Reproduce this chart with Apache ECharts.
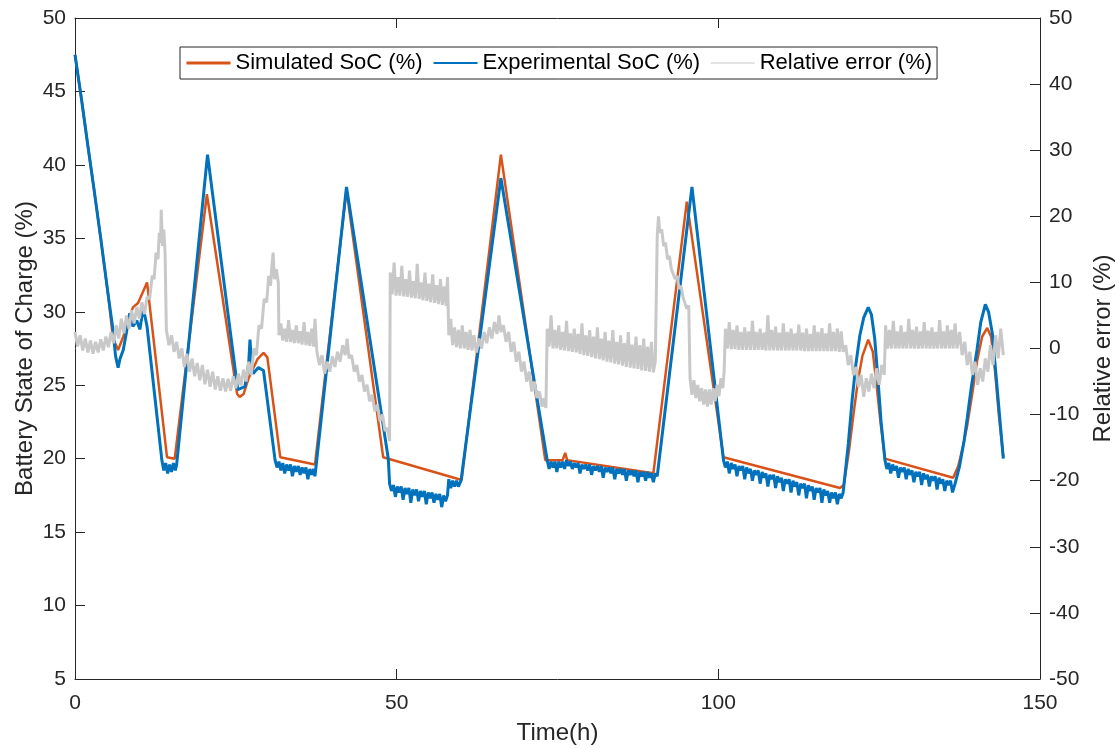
<!DOCTYPE html>
<html>
<head>
<meta charset="utf-8">
<script src="https://cdn.jsdelivr.net/npm/echarts@6/dist/echarts.min.js"></script>
<style>html,body{margin:0;padding:0;background:#fff;}#chart{width:1119px;height:749px;}</style>
</head>
<body>
<div id="chart"></div>
<script>
// Each point: [time (h), value]
const simulatedSoC = [[0,47.5],[1,44.5],[2,41.3],[3,38.2],[4,35.0],[5.2,31.0],[5.9,28.2],[6.7,27.4],[7.5,28.3],[9.0,30.3],[9.8,30.6],[10.4,31.2],[11.2,32.0],[14.3,20.1],[15.5,20.0],[20.5,38.0],[25.2,24.4],[25.6,24.2],[26.2,24.4],[27.0,25.5],[28.4,26.8],[29.3,27.2],[29.9,26.9],[31.9,20.1],[37.3,19.6],[42.2,38.3],[47.9,20.1],[60.1,18.55],[66.2,40.7],[73.1,19.9],[75.8,19.9],[76.2,20.4],[76.5,19.9],[89.9,19.0],[95.1,37.5],[100.8,20.1],[118.9,18.0],[119.5,18.2],[120.3,20.5],[121.0,23.0],[121.7,25.3],[122.4,27.0],[123.3,28.1],[124.0,27.3],[124.6,25.0],[125.2,22.5],[125.9,20.0],[136.5,18.7],[137.3,19.5],[138.0,20.8],[138.7,22.3],[139.5,24.5],[140.2,26.6],[141.0,28.3],[141.8,28.9],[142.4,28.3],[143.0,26.0],[143.6,23.0],[144.3,20.1]];

const experimentalSoC = [[0,47.5],[1,44.5],[2,41.3],[3,38.2],[4,35.0],[5.2,31.0],[5.9,28.8],[6.3,27.0],[6.7,26.2],[7.0,26.8],[7.5,27.4],[8.0,28.6],[8.5,29.9],[9.0,29.0],[9.6,29.4],[10.1,28.8],[10.6,30.3],[10.9,30.3],[11.2,29.0],
[13.5,19.9],[13.8,19.2],[14.1,19.7],[14.4,19.0],[14.7,19.6],[15.0,19.1],[15.3,19.7],[15.6,19.2],[15.8,19.6],
[20.6,40.7],[25.3,24.7],[26.4,24.9],[27.0,26.5],[27.2,28.1],[27.5,26.0],[27.7,25.8],[28.5,26.2],[29.3,26.0],
[31.1,19.9],[31.4,19.4],[31.7,19.8],[32.0,19.2],[32.3,19.7],[32.6,19.0],[32.9,19.6],[33.2,19.2],[33.5,19.6],[33.8,18.8],[34.1,19.5],[34.4,19.1],[34.7,19.5],[35.0,18.9],[35.3,19.4],[35.6,19.0],[35.9,19.4],[36.2,18.6],[36.5,19.3],[36.8,18.9],[37.1,19.3],[37.3,18.8],
[42.2,38.5],[48.7,20.0],
[48.9,18.3],[49.2,17.8],[49.5,18.2],[49.8,17.4],[50.1,18.1],[50.4,17.7],[50.7,18.1],[51.0,17.2],[51.3,18.0],[51.6,17.6],[51.9,18.0],[52.2,17.0],[52.5,17.9],[52.8,17.5],[53.1,17.9],[53.4,17.1],[53.7,17.8],[54.0,17.4],[54.3,17.8],[54.6,16.9],[54.9,17.7],[55.2,17.3],[55.5,17.7],[55.8,17.0],[56.1,17.6],[56.4,17.2],[56.7,17.6],[57.0,16.7],[57.3,17.5],[57.6,17.1],[57.9,17.5],
[58.1,18.6],[58.4,18.0],[58.7,18.5],[59.0,18.1],[59.3,18.5],[59.6,18.1],[60.0,18.5],
[66.2,39.1],
[73.4,19.9],[73.7,19.3],[74.0,19.8],[74.3,19.4],[74.6,19.8],[74.9,19.1],[75.2,19.8],[75.5,19.4],[75.8,19.8],[76.1,19.3],[76.4,19.9],[76.7,19.5],[77.0,19.8],[77.3,19.3],[77.6,19.7],[77.9,19.4],[78.2,19.7],[78.5,19.0],[78.8,19.6],[79.1,19.3],[79.4,19.6],[79.7,19.2],[80.0,19.6],[80.3,18.9],[80.6,19.5],[80.9,19.2],[81.2,19.5],[81.5,19.1],[81.8,19.5],[82.1,18.7],[82.4,19.4],[82.7,19.1],[83.0,19.4],[83.3,19.0],[83.6,19.4],[83.9,18.6],[84.2,19.3],[84.5,19.0],[84.8,19.3],[85.1,18.9],[85.4,19.3],[85.7,18.5],[86.0,19.2],[86.3,18.9],[86.6,19.2],[86.9,18.8],[87.2,19.2],[87.5,18.4],[87.8,19.1],[88.1,18.8],[88.4,19.1],[88.7,18.5],[89.0,19.1],[89.3,18.7],[89.6,19.0],[89.9,18.4],[90.2,19.0],[90.5,18.8],
[95.9,38.5],
[100.8,19.9],[101.1,19.4],[101.4,19.8],[101.7,19.0],[102.0,19.7],[102.3,19.3],[102.6,19.6],[102.9,18.8],[103.2,19.5],[103.5,19.2],[103.8,19.5],[104.1,18.6],[104.4,19.4],[104.7,19.0],[105.0,19.3],[105.3,18.5],[105.6,19.2],[105.9,18.9],[106.2,19.2],[106.5,18.3],[106.8,19.1],[107.1,18.7],[107.4,19.0],[107.7,18.1],[108.0,18.9],[108.3,18.6],[108.6,18.9],[108.9,18.0],[109.2,18.8],[109.5,18.4],[109.8,18.7],[110.1,17.8],[110.4,18.6],[110.7,18.3],[111.0,18.6],[111.3,17.7],[111.6,18.5],[111.9,18.1],[112.2,18.4],[112.5,17.5],[112.8,18.3],[113.1,18.0],[113.4,18.3],[113.7,17.3],[114.0,18.2],[114.3,17.8],[114.6,18.1],[114.9,17.2],[115.2,18.0],[115.5,17.7],[115.8,18.0],[116.1,17.0],[116.4,17.9],[116.7,17.5],[117.0,17.8],[117.3,17.0],[117.6,17.7],[117.9,17.3],[118.2,17.7],[118.5,16.9],[118.8,17.6],[119.1,17.3],[119.4,17.7],
[120.2,21.0],[120.8,24.0],[121.4,26.5],[122.0,28.4],[122.6,29.6],[123.3,30.3],[123.8,29.8],[124.3,28.2],[124.8,25.5],[125.3,22.5],
[125.9,19.9],[126.2,19.3],[126.5,19.7],[126.8,19.0],[127.1,19.6],[127.4,19.2],[127.7,19.5],[128.0,18.7],[128.3,19.4],[128.6,19.1],[128.9,19.4],[129.2,18.6],[129.5,19.3],[129.8,18.9],[130.1,19.2],[130.4,18.4],[130.7,19.1],[131.0,18.8],[131.3,19.1],[131.6,18.2],[131.9,19.0],[132.2,18.6],[132.5,18.9],[132.8,18.1],[133.1,18.8],[133.4,18.5],[133.7,18.8],[134.0,17.9],[134.3,18.7],[134.6,18.3],[134.9,18.6],[135.2,17.8],[135.5,18.5],[135.8,18.2],[136.1,18.5],[136.4,17.7],[136.8,18.3],
[137.5,19.5],[138.2,21.2],[138.7,22.8],[139.3,24.8],[140.2,27.4],[140.8,29.3],[141.5,30.5],[142.0,30.0],[142.6,28.5],[143.2,25.5],[143.8,22.5],[144.3,20.0]];

const relativeError = [[0,2.5],[0.4,0.3],[0.8,2.0],[1.2,-0.3],[1.6,1.5],[2.0,-0.6],[2.4,1.2],[2.8,-0.8],[3.2,1.0],[3.6,-0.6],[4.0,1.4],[4.4,-0.3],[4.8,1.8],[5.2,0.2],[5.6,2.5],[6.0,0.8],[6.4,3.5],[6.8,1.5],[7.2,4.5],[7.6,2.3],[8.0,5.0],[8.4,3.0],[8.8,5.8],[9.2,3.8],[9.6,6.3],[10.0,4.5],[10.4,7.0],[10.8,5.2],[11.2,7.8],[11.6,7.5],[12.0,11.0],[12.3,10.5],[12.6,14.5],[12.9,13.5],[13.1,17.5],[13.3,16.0],[13.4,21.0],[13.6,15.5],[13.8,18.0],[14.0,14.5],[14.2,2.8],
[14.6,0.5],[15.0,2.0],[15.4,-0.5],[15.8,1.0],[16.2,-1.5],[16.6,0.0],[17.0,-2.8],[17.4,-0.8],[17.8,-3.5],[18.2,-1.5],[18.6,-4.2],[19.0,-2.2],[19.4,-4.8],[19.8,-2.5],[20.2,-5.4],[20.6,-3.2],[21.0,-5.8],[21.4,-3.5],[21.8,-6.2],[22.2,-4.2],[22.6,-6.4],[23.0,-4.5],[23.4,-6.5],[23.8,-4.6],[24.2,-6.4],[24.6,-4.2],[25.0,-6.0],[25.4,-3.8],[25.8,-5.6],[26.2,-3.2],[26.6,-5.0],[27.0,-2.0],[27.4,-4.0],[27.8,0.0],[28.2,-1.0],[28.6,3.5],[29.0,3.0],[29.4,7.5],[29.8,7.0],[30.1,11.0],[30.4,9.5],[30.6,12.5],[30.8,14.5],[31.0,10.5],[31.3,12.0],[31.6,10.0],[31.7,2.0],
[32.0,3.8],[32.3,1.2],[32.6,3.0],[32.9,1.0],[33.2,4.3],[33.5,1.0],[33.8,2.8],[34.1,0.8],[34.4,3.5],[34.7,0.8],[35.0,2.6],[35.3,0.6],[35.6,4.0],[35.9,0.5],[36.2,2.5],[36.5,0.4],[36.8,3.0],[37.1,0.3],[37.3,4.5],
[37.6,-0.5],[38.0,-2.5],[38.4,-1.0],[38.8,-3.8],[39.2,-2.0],[39.6,-3.5],[40.0,-1.2],[40.4,-2.8],[40.8,-0.5],[41.2,-2.0],[41.6,0.5],[42.0,-1.0],[42.3,1.5],[42.6,-1.5],[43.0,-1.0],[43.4,-3.5],[43.8,-2.5],[44.2,-5.0],[44.6,-4.0],[45.0,-6.5],[45.4,-5.5],[45.8,-8.0],[46.2,-7.0],[46.6,-9.5],[47.0,-8.5],[47.4,-11.0],[47.8,-10.0],[48.2,-12.5],[48.6,-12.0],[48.9,-14.0],
[49.0,11.5],[49.3,8.2],[49.6,13.0],[49.9,8.0],[50.2,10.8],[50.5,8.0],[50.8,12.5],[51.1,7.9],[51.4,10.5],[51.7,7.8],[52.0,11.8],[52.3,7.7],[52.6,10.2],[52.9,7.6],[53.2,12.8],[53.5,7.5],[53.8,10.0],[54.1,7.3],[54.4,11.5],[54.7,7.2],[55.0,9.8],[55.3,7.0],[55.6,11.2],[55.9,6.9],[56.2,9.6],[56.5,6.7],[56.8,10.5],[57.1,6.6],[57.4,9.4],[57.7,6.4],[57.9,10.8],
[58.1,2.0],[58.4,4.5],[58.7,0.5],[59.0,3.2],[59.3,0.2],[59.6,2.8],[59.9,0.0],[60.2,3.5],[60.5,0.0],[60.8,2.5],[61.1,-0.2],[61.4,2.8],[61.7,-0.3],[62.0,2.0],[62.4,-0.6],[62.8,1.5],[63.2,0.0],[63.6,2.5],[64.0,0.8],[64.4,3.2],[64.8,1.5],[65.2,4.0],[65.6,2.2],[65.9,5.0],[66.2,2.5],[66.6,3.5],[67.0,1.0],[67.4,2.5],[67.8,-0.5],[68.2,1.0],[68.6,-2.0],[69.0,-0.5],[69.4,-3.5],[69.8,-2.0],[70.2,-5.0],[70.6,-3.5],[71.0,-6.5],[71.4,-5.0],[71.8,-7.5],[72.2,-6.5],[72.6,-8.8],[72.9,-7.5],[73.2,-9.0],
[73.4,3.0],[73.7,0.3],[74.0,5.0],[74.3,0.0],[74.6,2.8],[74.9,0.0],[75.2,3.5],[75.5,-0.2],[75.8,2.5],[76.1,-0.3],[76.4,4.2],[76.7,-0.4],[77.0,2.3],[77.3,-0.5],[77.6,3.0],[77.9,-0.6],[78.2,2.2],[78.5,-0.8],[78.8,3.8],[79.1,-1.0],[79.4,2.0],[79.7,-1.1],[80.0,2.8],[80.3,-1.3],[80.6,1.8],[80.9,-1.5],[81.2,3.2],[81.5,-1.6],[81.8,1.5],[82.1,-1.8],[82.4,2.5],[82.7,-2.0],[83.0,1.2],[83.3,-2.1],[83.6,2.8],[83.9,-2.3],[84.2,1.0],[84.5,-2.4],[84.8,2.0],[85.1,-2.6],[85.4,0.8],[85.7,-2.8],[86.0,2.5],[86.3,-2.9],[86.6,0.6],[86.9,-3.0],[87.2,1.8],[87.5,-3.1],[87.8,0.5],[88.1,-3.3],[88.4,1.5],[88.7,-3.4],[89.0,0.3],[89.3,-3.5],[89.6,1.0],[89.9,-3.6],[90.2,-2.0],
[90.5,17.0],[90.7,20.0],[90.9,17.5],[91.2,18.0],[91.5,15.5],[91.8,16.0],[92.1,13.5],[92.4,14.0],[92.7,12.0],[93.0,12.3],[93.3,10.5],[93.6,11.0],[93.9,9.0],[94.2,9.5],[94.5,7.8],[94.8,8.0],[95.1,6.0],[95.4,6.5],
[95.6,-4.5],[95.9,-7.0],[96.2,-4.8],[96.5,-7.5],[96.8,-5.5],[97.1,-8.0],[97.4,-6.0],[97.7,-8.5],[98.0,-6.2],[98.3,-8.8],[98.6,-6.2],[98.9,-8.5],[99.2,-6.0],[99.5,-8.0],[99.8,-5.5],[100.1,-7.2],[100.4,-4.5],[100.7,-6.0],[100.9,-3.5],
[101.1,3.0],[101.4,0.0],[101.7,4.0],[102.0,-0.1],[102.3,2.8],[102.6,-0.1],[102.9,3.5],[103.2,-0.2],[103.5,2.5],[103.8,-0.2],[104.1,3.2],[104.4,-0.2],[104.7,2.6],[105.0,-0.2],[105.3,4.2],[105.6,-0.2],[105.9,2.5],[106.2,-0.2],[106.5,3.0],[106.8,-0.2],[107.1,2.4],[107.4,-0.3],[107.7,5.0],[108.0,-0.3],[108.3,2.8],[108.6,-0.3],[108.9,3.3],[109.2,-0.3],[109.5,2.4],[109.8,-0.3],[110.1,3.8],[110.4,-0.3],[110.7,2.5],[111.0,-0.3],[111.3,3.0],[111.6,-0.3],[111.9,2.3],[112.2,-0.3],[112.5,3.6],[112.8,-0.3],[113.1,2.4],[113.4,-0.4],[113.7,3.0],[114.0,-0.4],[114.3,2.2],[114.6,-0.4],[114.9,3.5],[115.2,-0.4],[115.5,2.5],[115.8,-0.4],[116.1,3.1],[116.4,-0.4],[116.7,2.3],[117.0,-0.4],[117.3,3.8],[117.6,-0.4],[117.9,2.5],[118.2,-0.4],[118.5,3.0],[118.8,-0.5],[119.1,2.6],[119.4,-0.5],
[119.8,0.5],[120.2,-2.5],[120.6,-1.0],[121.0,-4.0],[121.4,-2.8],[121.8,-5.8],[122.2,-4.0],[122.6,-7.3],[123.0,-4.5],[123.4,-6.5],[123.8,-3.8],[124.2,-6.0],[124.6,-3.0],[125.0,-5.5],[125.4,-2.5],[125.8,-4.0],
[126.0,3.5],[126.3,0.0],[126.6,2.8],[126.9,0.0],[127.2,4.2],[127.5,0.0],[127.8,2.6],[128.1,0.0],[128.4,3.5],[128.7,0.0],[129.0,2.5],[129.3,0.0],[129.6,4.5],[129.9,0.0],[130.2,2.8],[130.5,0.0],[130.8,3.3],[131.1,0.0],[131.4,2.6],[131.7,0.0],[132.0,4.0],[132.3,0.0],[132.6,2.7],[132.9,0.0],[133.2,3.2],[133.5,0.0],[133.8,2.5],[134.1,0.0],[134.4,4.3],[134.7,0.0],[135.0,2.6],[135.3,0.0],[135.6,3.5],[135.9,0.0],[136.2,2.8],[136.5,0.0],[136.8,3.8],[137.1,0.0],[137.5,2.5],
[137.9,-1.0],[138.3,1.0],[138.7,-2.5],[139.1,-0.5],[139.5,-4.0],[139.9,-2.0],[140.3,-5.5],[140.7,-3.0],[141.1,-5.0],[141.5,-1.5],[141.9,-3.5],[142.3,0.5],[142.7,-2.5],[143.1,2.0],[143.5,-1.5],[143.9,3.0],[144.3,-1.0]];

const seriesNames = ['Simulated SoC (%)', 'Experimental SoC (%)', 'Relative error (%)'];
const seriesColors = ['#D95319', '#0072BD', '#C8C8C8'];

const axisColor = '#262626';
const font = 'Liberation Sans, Arial, sans-serif';

const chart = echarts.init(document.getElementById('chart'), null, {renderer: 'canvas'});
chart.setOption({
  animation: false,
  backgroundColor: '#fff',
  textStyle: {fontFamily: font},
  grid: {left: 75, right: 79, top: 18, bottom: 70, outerBoundsMode: 'none', containLabel: false},
  legend: {
    left: 180, top: 47,
    orient: 'horizontal',
    backgroundColor: '#fff',
    borderColor: axisColor, borderWidth: 1, borderRadius: 0,
    padding: [5, 5, 5, 5],
    itemGap: 10, itemWidth: 44, itemHeight: 14,
    itemStyle: {opacity: 0},
    textStyle: {fontSize: 22, color: '#000', fontFamily: font},
    data: [
      {name: seriesNames[0], lineStyle: {width: 3}, itemStyle: {opacity: 0}},
      {name: seriesNames[1], lineStyle: {width: 2}, itemStyle: {opacity: 0}},
      {name: seriesNames[2], lineStyle: {width: 1}, itemStyle: {opacity: 0}}
    ]
  },
  xAxis: [{
    type: 'value', min: 0, max: 150, interval: 50, position: 'bottom',
    name: 'Time(h)', nameLocation: 'middle', nameGap: 42, nameMoveOverlap: false,
    nameTextStyle: {fontSize: 24, color: axisColor, fontFamily: font},
    axisLine: {show: true, onZero: false, lineStyle: {color: axisColor, width: 1}},
    axisTick: {show: true, inside: true, length: 10, lineStyle: {color: axisColor}},
    axisLabel: {fontSize: 21, color: axisColor, margin: 14, fontFamily: font},
    splitLine: {show: false}
  }, {
    type: 'value', min: 0, max: 150, interval: 50, position: 'top',
    axisLine: {show: true, onZero: false, lineStyle: {color: axisColor, width: 1}},
    axisTick: {show: true, inside: true, length: 10, lineStyle: {color: axisColor}},
    axisLabel: {show: false},
    splitLine: {show: false}
  }],
  yAxis: [{
    type: 'value', min: 5, max: 50, interval: 5, position: 'left',
    name: 'Battery State of Charge (%)', nameLocation: 'middle', nameGap: 38, nameRotate: 90, nameMoveOverlap: false,
    nameTextStyle: {fontSize: 24, color: axisColor, fontFamily: font},
    axisLine: {show: true, onZero: false, lineStyle: {color: axisColor, width: 1}},
    axisTick: {show: true, inside: true, length: 10, lineStyle: {color: axisColor}},
    axisLabel: {fontSize: 21, color: axisColor, margin: 9, fontFamily: font},
    splitLine: {show: false}
  }, {
    type: 'value', min: -50, max: 50, interval: 10, position: 'right',
    name: 'Relative error (%)', nameLocation: 'middle', nameGap: 51, nameRotate: 90, nameMoveOverlap: false,
    nameTextStyle: {fontSize: 24, color: axisColor, fontFamily: font},
    axisLine: {show: true, onZero: false, lineStyle: {color: axisColor, width: 1}},
    axisTick: {show: true, inside: true, length: 10, lineStyle: {color: axisColor}},
    axisLabel: {fontSize: 21, color: axisColor, margin: 9, fontFamily: font},
    splitLine: {show: false}
  }],
  series: [{
    name: seriesNames[0], type: 'line', xAxisIndex: 0, yAxisIndex: 0,
    data: simulatedSoC, symbol: 'none', showSymbol: false, z: 2,
    color: seriesColors[0], lineStyle: {color: seriesColors[0], width: 2.5}
  }, {
    name: seriesNames[1], type: 'line', xAxisIndex: 0, yAxisIndex: 0,
    data: experimentalSoC, symbol: 'none', showSymbol: false, z: 3,
    color: seriesColors[1], lineStyle: {color: seriesColors[1], width: 3}
  }, {
    name: seriesNames[2], type: 'line', xAxisIndex: 0, yAxisIndex: 1,
    data: relativeError, symbol: 'none', showSymbol: false, z: 4,
    color: seriesColors[2], lineStyle: {color: seriesColors[2], width: 3}
  }]
});
</script>
</body>
</html>
